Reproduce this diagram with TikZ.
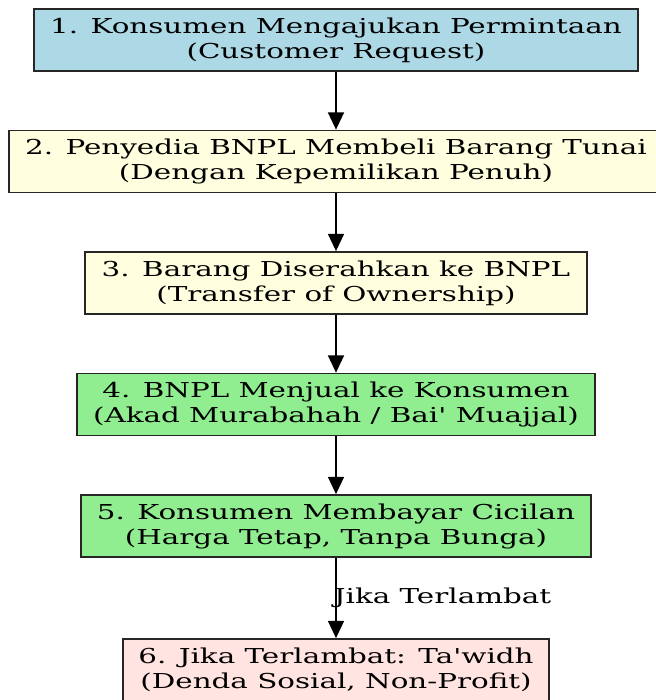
\documentclass[tikz,border=0pt]{standalone}
\usepackage{fontspec}
\newfontfamily\dvs[FakeStretch=1.43]{DejaVu Serif}
\usetikzlibrary{arrows.meta}
\definecolor{cblue}{HTML}{ADD8E6}
\definecolor{cyellow}{HTML}{FFFFE0}
\definecolor{cgreen}{HTML}{90EE90}
\definecolor{crose}{HTML}{FFE4E1}
\begin{document}
\begin{tikzpicture}[x=0.75pt,y=-0.75pt,
  stepbox/.style={draw=black!85, line width=1.3pt, minimum height=46.5pt, inner sep=0pt, align=center, font=\dvs\fontsize{15.4}{18.75}\selectfont},
  flow/.style={-{Triangle[length=13pt,width=12pt]}, line width=1.3pt},
  lbl/.style={font=\dvs\fontsize{15.4}{18.75}\selectfont, inner sep=0pt},
]
\useasboundingbox (0,0) rectangle (656,700);
\clip (0,0) rectangle (656,700);
\node[stepbox, fill=cblue, minimum width=453pt] (n1) at (336,40) {1. Konsumen Mengajukan Permintaan\\(Customer Request)};
\node[stepbox, fill=cyellow, minimum width=490.5pt] (n2) at (336,161.5) {2. Penyedia BNPL Membeli Barang Tunai\\(Dengan Kepemilikan Penuh)};
\node[stepbox, fill=cyellow, minimum width=376.5pt] (n3) at (336,283) {3. Barang Diserahkan ke BNPL\\(Transfer of Ownership)};
\node[stepbox, fill=cgreen, minimum width=388.5pt] (n4) at (336,404.5) {4. BNPL Menjual ke Konsumen\\(Akad Murabahah / Bai' Muajjal)};
\node[stepbox, fill=cgreen, minimum width=382.5pt] (n5) at (336,526) {5. Konsumen Membayar Cicilan\\(Harga Tetap, Tanpa Bunga)};
\node[stepbox, fill=crose, minimum width=319.5pt] (n6) at (336,670) {6. Jika Terlambat: Ta'widh\\(Denda Sosial, Non-Profit)};
\draw[flow] (n1) -- (n2);
\draw[flow] (n2) -- (n3);
\draw[flow] (n3) -- (n4);
\draw[flow] (n4) -- (n5);
\draw[flow] (n5) -- node[lbl, anchor=west, xshift=-2.25pt] {Jika Terlambat} (n6);
\end{tikzpicture}
\end{document}
